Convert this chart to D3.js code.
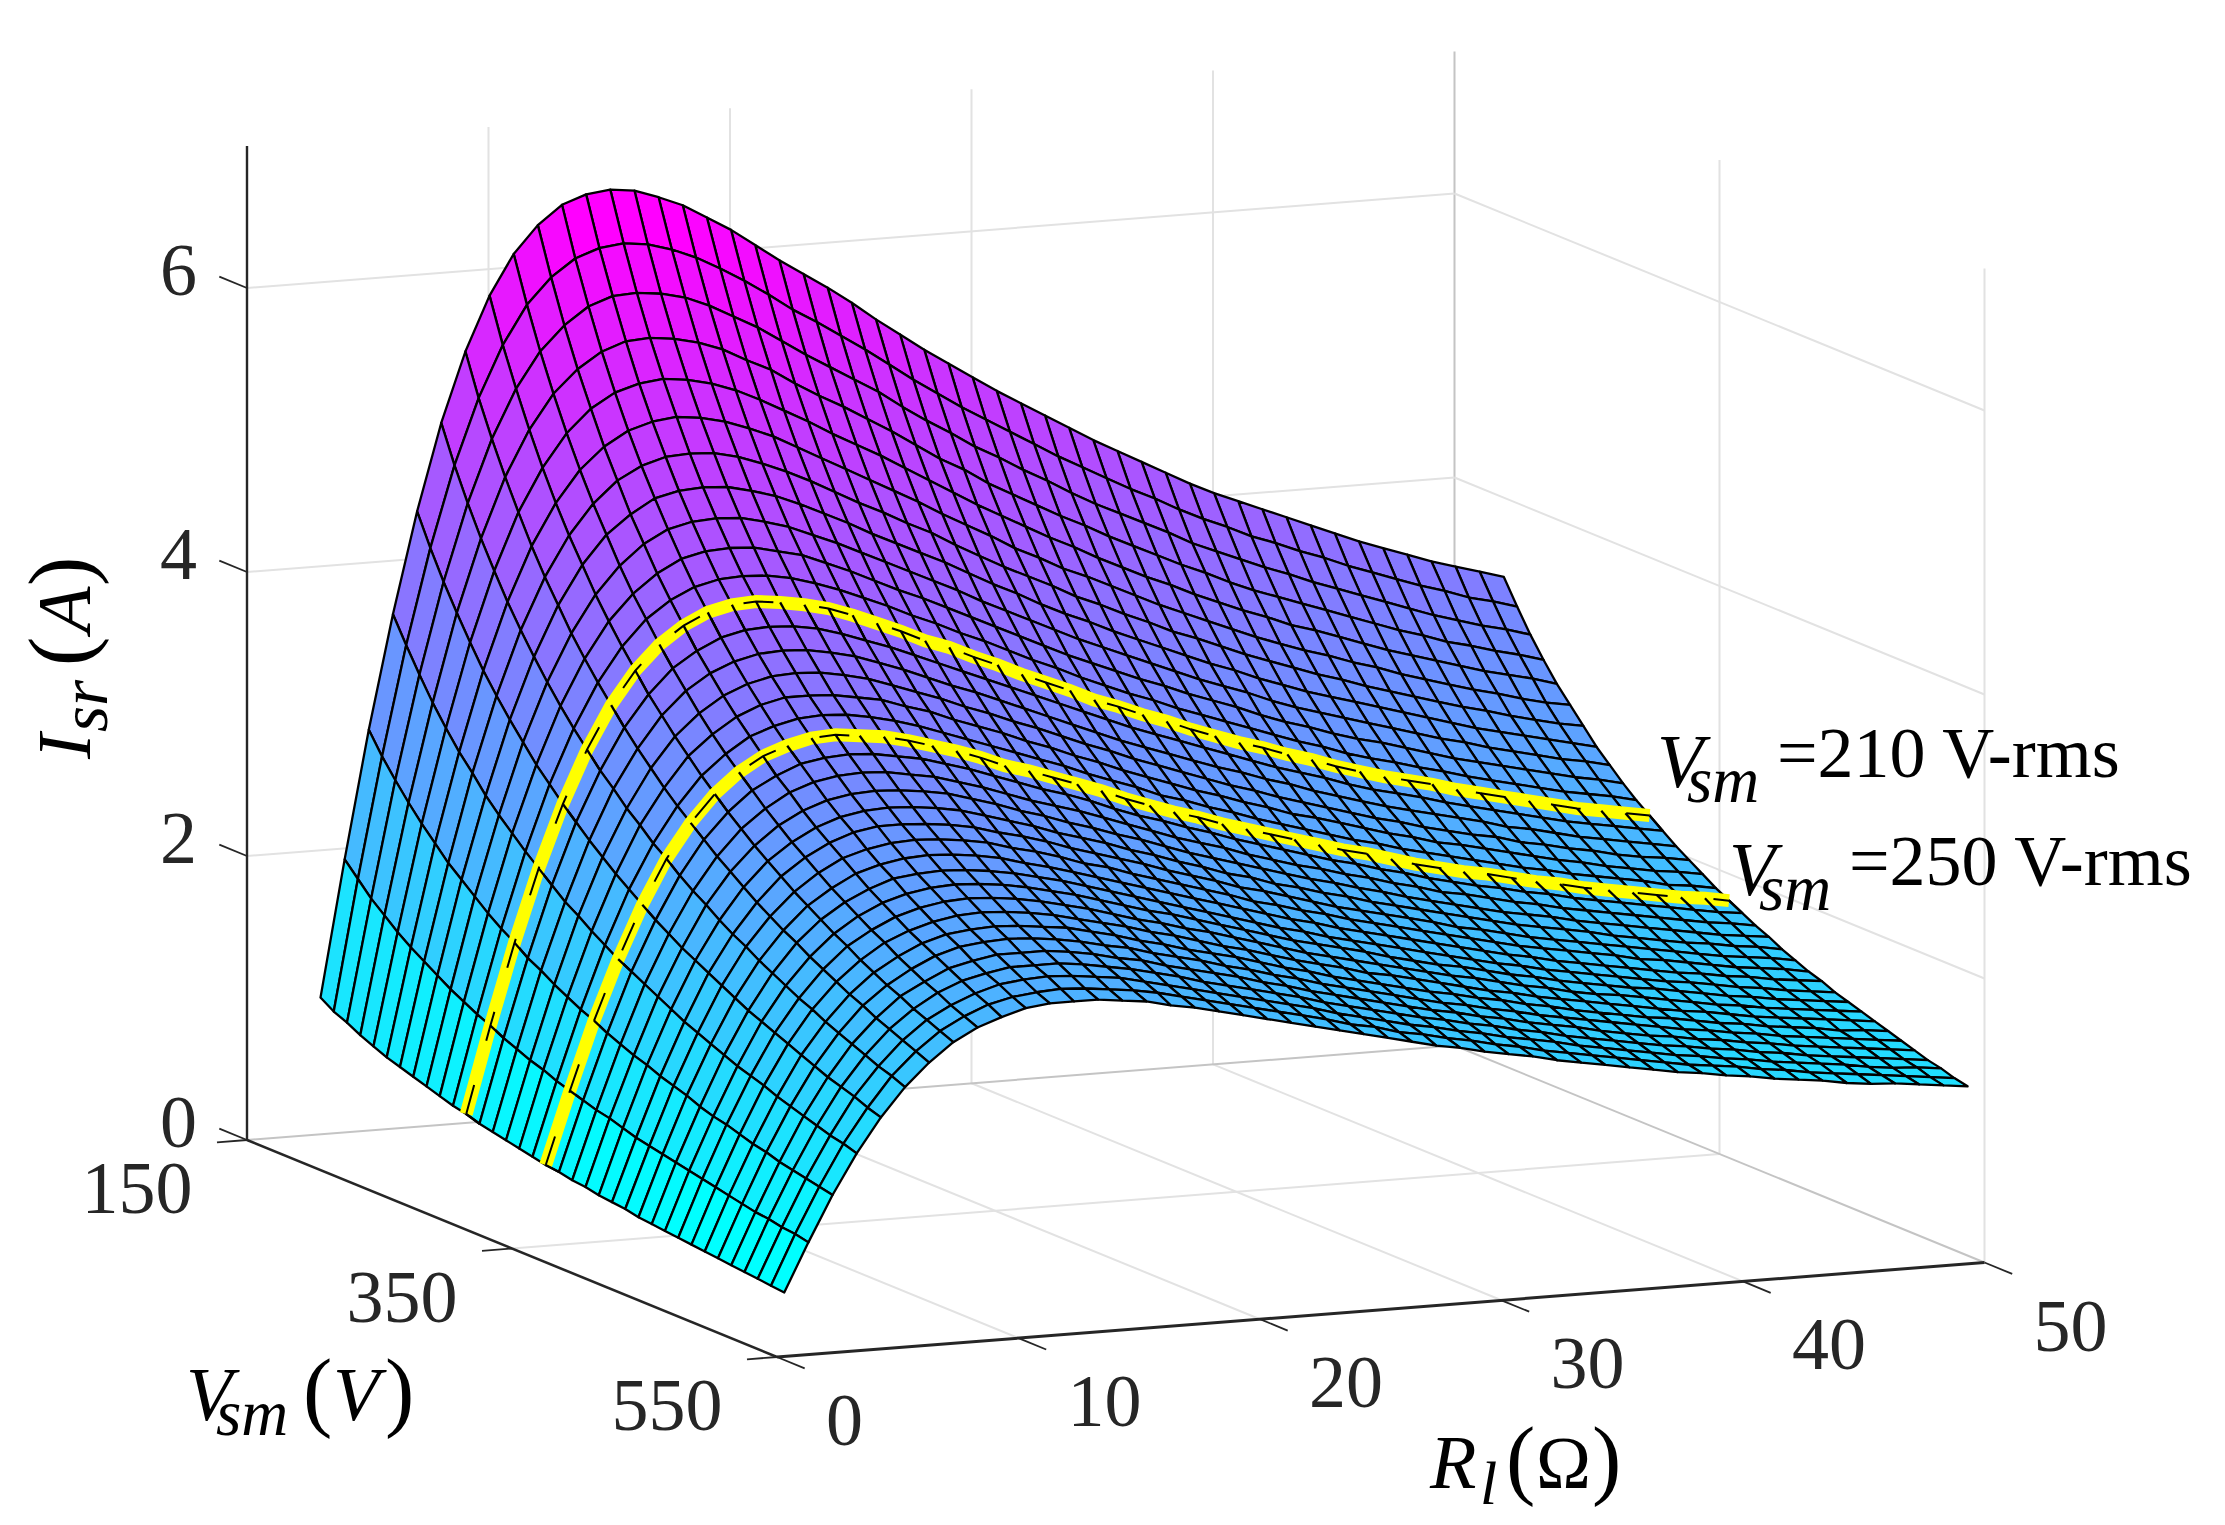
<!DOCTYPE html>
<html>
<head>
<meta charset="utf-8">
<script src="https://cdn.jsdelivr.net/npm/d3@7"></script>
<style>
  body { margin: 0; background: #fff; }
  text { font-family: "Liberation Serif", serif; fill: #262626; }
</style>
</head>
<body>
<script>
const rlTicks = [0, 10, 20, 30, 40, 50];
const vsmTicks = [150, 350, 550];
const isrTicks = [0, 2, 4, 6];
const highlightVsm = [310, 370];

const rlValues = [0.3,1.3,2.3,3.3,4.3,5.3,6.3,7.3,8.3,9.3,10.3,11.3,12.3,13.3,14.3,15.3,16.3,17.3,18.3,19.3,20.3,21.3,22.3,23.3,24.3,25.3,26.3,27.3,28.3,29.3,30.3,31.3,32.3,33.3,34.3,35.3,36.3,37.3,38.3,39.3,40.3,41.3,42.3,43.3,44.3,45.3,46.3,47.3,48.3,49.3];
const vsmValues = [200,210,220,230,240,250,260,270,280,290,300,310,320,330,340,350,360,370,380,390,400,410,420,430,440,450,460,470,480,490,500,510,520,530,540,550];

// Isr per Vsm row. Rows 200 and 550 are read node by node off the picture, 310 and 370 checked
// against the yellow curves. The rows between are estimates scaled from those edges, not direct readings.
const isrRows = [
[1.19,2.15,3.05,3.85,4.56,5.17,5.66,6.04,6.32,6.51,6.64,6.70,6.72,6.70,6.64,6.57,6.47,6.37,6.25,6.13,6.02,5.91,5.79,5.66,5.54,5.42,5.31,5.20,5.09,4.99,4.89,4.79,4.69,4.60,4.51,4.42,4.33,4.25,4.18,4.11,4.04,3.97,3.90,3.83,3.77,3.71,3.65,3.60,3.55,3.50],
[1.13,2.05,2.90,3.67,4.34,4.91,5.37,5.73,6.00,6.18,6.30,6.36,6.38,6.36,6.31,6.24,6.15,6.05,5.94,5.82,5.72,5.61,5.50,5.38,5.26,5.15,5.04,4.94,4.84,4.74,4.64,4.55,4.46,4.37,4.29,4.20,4.12,4.05,3.97,3.91,3.84,3.78,3.71,3.65,3.59,3.53,3.48,3.42,3.38,3.33],
[1.09,1.95,2.77,3.50,4.14,4.68,5.12,5.46,5.71,5.88,6.00,6.06,6.07,6.05,6.01,5.94,5.85,5.76,5.65,5.54,5.44,5.34,5.24,5.12,5.01,4.91,4.80,4.71,4.61,4.52,4.42,4.33,4.25,4.17,4.09,4.00,3.93,3.86,3.79,3.73,3.66,3.60,3.54,3.48,3.42,3.36,3.31,3.26,3.22,3.17],
[1.04,1.87,2.65,3.34,3.96,4.47,4.89,5.21,5.45,5.61,5.72,5.78,5.79,5.77,5.73,5.67,5.58,5.50,5.39,5.29,5.20,5.10,5.00,4.89,4.78,4.69,4.58,4.49,4.40,4.31,4.23,4.14,4.06,3.98,3.90,3.83,3.75,3.68,3.62,3.56,3.50,3.44,3.38,3.32,3.27,3.21,3.17,3.12,3.08,3.03],
[1.00,1.79,2.54,3.20,3.79,4.28,4.68,4.98,5.21,5.37,5.47,5.52,5.54,5.52,5.48,5.42,5.34,5.25,5.16,5.06,4.97,4.88,4.78,4.68,4.58,4.48,4.39,4.30,4.21,4.13,4.04,3.96,3.88,3.81,3.73,3.66,3.59,3.53,3.46,3.41,3.35,3.29,3.23,3.18,3.13,3.08,3.03,2.99,2.95,2.90],
[0.96,1.72,2.44,3.07,3.63,4.10,4.48,4.77,4.99,5.14,5.24,5.29,5.31,5.29,5.25,5.19,5.12,5.03,4.94,4.85,4.76,4.67,4.58,4.48,4.39,4.30,4.20,4.12,4.03,3.96,3.88,3.80,3.72,3.65,3.58,3.51,3.44,3.38,3.32,3.27,3.21,3.16,3.10,3.05,3.00,2.95,2.91,2.86,2.82,2.79],
[0.93,1.66,2.34,2.96,3.49,3.94,4.30,4.58,4.79,4.94,5.03,5.08,5.09,5.08,5.04,4.98,4.91,4.83,4.74,4.65,4.57,4.48,4.40,4.30,4.21,4.12,4.04,3.96,3.87,3.80,3.72,3.65,3.57,3.51,3.44,3.37,3.31,3.25,3.19,3.14,3.08,3.03,2.98,2.93,2.88,2.84,2.79,2.75,2.71,2.68],
[0.90,1.60,2.26,2.84,3.36,3.79,4.14,4.41,4.61,4.74,4.84,4.88,4.89,4.88,4.84,4.79,4.72,4.64,4.56,4.47,4.39,4.31,4.23,4.14,4.05,3.97,3.88,3.80,3.73,3.65,3.58,3.51,3.44,3.37,3.31,3.24,3.18,3.12,3.07,3.02,2.97,2.92,2.87,2.82,2.77,2.73,2.69,2.65,2.61,2.57],
[0.87,1.54,2.18,2.74,3.24,3.65,3.98,4.24,4.43,4.57,4.66,4.70,4.71,4.70,4.66,4.61,4.54,4.47,4.39,4.31,4.23,4.15,4.07,3.98,3.90,3.82,3.74,3.66,3.59,3.52,3.45,3.38,3.31,3.25,3.19,3.12,3.06,3.01,2.96,2.91,2.86,2.81,2.76,2.72,2.67,2.63,2.59,2.55,2.52,2.48],
[0.84,1.49,2.10,2.65,3.12,3.52,3.84,4.09,4.27,4.40,4.49,4.53,4.54,4.53,4.49,4.45,4.38,4.31,4.23,4.15,4.08,4.00,3.92,3.84,3.76,3.68,3.60,3.53,3.46,3.39,3.33,3.26,3.20,3.14,3.07,3.01,2.96,2.90,2.85,2.81,2.76,2.71,2.66,2.62,2.58,2.54,2.50,2.46,2.43,2.39],
[0.81,1.44,2.03,2.56,3.02,3.40,3.71,3.95,4.13,4.25,4.33,4.37,4.38,4.37,4.34,4.29,4.23,4.16,4.09,4.01,3.94,3.86,3.79,3.71,3.63,3.56,3.48,3.41,3.34,3.28,3.21,3.15,3.09,3.03,2.97,2.91,2.86,2.80,2.75,2.71,2.66,2.62,2.57,2.53,2.49,2.45,2.41,2.38,2.35,2.31],
[0.79,1.40,1.97,2.48,2.92,3.29,3.59,3.82,3.99,4.11,4.19,4.23,4.24,4.22,4.19,4.15,4.09,4.02,3.95,3.87,3.81,3.73,3.66,3.58,3.51,3.44,3.36,3.30,3.23,3.17,3.10,3.04,2.98,2.93,2.87,2.82,2.76,2.71,2.66,2.62,2.58,2.53,2.49,2.45,2.41,2.37,2.33,2.30,2.27,2.24],
[0.76,1.35,1.90,2.40,2.83,3.18,3.47,3.69,3.86,3.97,4.05,4.09,4.10,4.09,4.06,4.01,3.95,3.89,3.82,3.75,3.68,3.61,3.54,3.47,3.40,3.33,3.26,3.19,3.13,3.07,3.01,2.95,2.89,2.83,2.78,2.73,2.67,2.62,2.58,2.54,2.49,2.45,2.41,2.37,2.33,2.29,2.26,2.23,2.20,2.17],
[0.74,1.31,1.85,2.32,2.74,3.09,3.36,3.58,3.74,3.85,3.92,3.96,3.97,3.96,3.93,3.89,3.83,3.77,3.70,3.63,3.57,3.50,3.43,3.36,3.29,3.22,3.15,3.09,3.03,2.97,2.91,2.86,2.80,2.75,2.69,2.64,2.59,2.54,2.50,2.46,2.42,2.38,2.33,2.30,2.26,2.22,2.19,2.16,2.13,2.10],
[0.72,1.27,1.79,2.26,2.66,2.99,3.26,3.47,3.62,3.73,3.80,3.84,3.85,3.84,3.81,3.77,3.71,3.65,3.59,3.52,3.46,3.39,3.33,3.26,3.19,3.13,3.06,3.00,2.94,2.88,2.82,2.77,2.71,2.66,2.61,2.56,2.51,2.47,2.42,2.38,2.34,2.31,2.26,2.23,2.19,2.16,2.12,2.09,2.07,2.04],
[0.70,1.24,1.74,2.19,2.58,2.91,3.16,3.37,3.51,3.62,3.69,3.73,3.73,3.72,3.69,3.66,3.60,3.55,3.48,3.42,3.36,3.29,3.23,3.16,3.10,3.03,2.97,2.91,2.85,2.80,2.74,2.69,2.63,2.59,2.54,2.49,2.44,2.40,2.35,2.32,2.28,2.24,2.20,2.16,2.13,2.09,2.06,2.03,2.01,1.98],
[0.68,1.20,1.69,2.13,2.51,2.82,3.07,3.27,3.41,3.52,3.58,3.62,3.63,3.62,3.59,3.55,3.50,3.44,3.38,3.32,3.26,3.20,3.14,3.07,3.01,2.95,2.88,2.83,2.77,2.72,2.66,2.61,2.56,2.51,2.46,2.42,2.37,2.33,2.29,2.25,2.21,2.17,2.14,2.10,2.07,2.04,2.01,1.97,1.95,1.92],
[0.66,1.17,1.65,2.07,2.44,2.75,2.99,3.18,3.32,3.42,3.48,3.52,3.53,3.51,3.49,3.45,3.40,3.35,3.29,3.22,3.17,3.11,3.05,2.99,2.92,2.86,2.80,2.75,2.69,2.64,2.59,2.54,2.49,2.44,2.40,2.35,2.30,2.26,2.22,2.19,2.15,2.11,2.08,2.04,2.01,1.98,1.95,1.92,1.90,1.87],
[0.65,1.14,1.60,2.02,2.37,2.67,2.91,3.09,3.23,3.32,3.39,3.42,3.43,3.42,3.39,3.36,3.31,3.26,3.20,3.14,3.08,3.03,2.97,2.90,2.84,2.79,2.73,2.68,2.62,2.57,2.52,2.47,2.42,2.38,2.33,2.29,2.24,2.20,2.16,2.13,2.09,2.06,2.02,1.99,1.96,1.93,1.90,1.87,1.84,1.82],
[0.63,1.11,1.56,1.97,2.31,2.60,2.83,3.01,3.14,3.24,3.30,3.33,3.34,3.33,3.30,3.27,3.22,3.17,3.11,3.05,3.00,2.95,2.89,2.83,2.77,2.71,2.66,2.61,2.55,2.50,2.45,2.41,2.36,2.32,2.27,2.23,2.18,2.15,2.11,2.07,2.04,2.00,1.97,1.94,1.91,1.88,1.85,1.82,1.80,1.77],
[0.62,1.09,1.52,1.92,2.25,2.54,2.76,2.93,3.06,3.15,3.21,3.24,3.25,3.24,3.22,3.19,3.14,3.09,3.03,2.98,2.92,2.87,2.81,2.76,2.70,2.64,2.59,2.54,2.49,2.44,2.39,2.35,2.30,2.26,2.21,2.17,2.13,2.09,2.05,2.02,1.99,1.95,1.92,1.89,1.86,1.83,1.80,1.77,1.75,1.73],
[0.60,1.06,1.49,1.87,2.20,2.47,2.69,2.86,2.98,3.07,3.13,3.16,3.17,3.16,3.14,3.11,3.06,3.01,2.96,2.90,2.85,2.80,2.74,2.69,2.63,2.58,2.52,2.48,2.42,2.38,2.33,2.29,2.24,2.20,2.16,2.12,2.08,2.04,2.00,1.97,1.94,1.91,1.87,1.84,1.81,1.78,1.76,1.73,1.71,1.68],
[0.59,1.03,1.45,1.82,2.15,2.41,2.62,2.79,2.91,3.00,3.06,3.09,3.09,3.08,3.06,3.03,2.98,2.94,2.89,2.83,2.78,2.73,2.68,2.62,2.57,2.52,2.46,2.42,2.37,2.32,2.27,2.23,2.19,2.15,2.11,2.06,2.03,1.99,1.95,1.92,1.89,1.86,1.83,1.80,1.77,1.74,1.71,1.69,1.67,1.64],
[0.58,1.01,1.42,1.78,2.10,2.36,2.56,2.72,2.84,2.93,2.98,3.01,3.02,3.01,2.99,2.96,2.91,2.87,2.82,2.76,2.72,2.66,2.61,2.56,2.51,2.46,2.40,2.36,2.31,2.27,2.22,2.18,2.14,2.10,2.06,2.02,1.98,1.94,1.91,1.88,1.85,1.82,1.78,1.76,1.73,1.70,1.67,1.65,1.63,1.60],
[0.56,0.99,1.39,1.74,2.05,2.30,2.50,2.66,2.77,2.86,2.91,2.94,2.95,2.94,2.92,2.89,2.84,2.80,2.75,2.70,2.65,2.60,2.55,2.50,2.45,2.40,2.35,2.30,2.26,2.21,2.17,2.13,2.09,2.05,2.01,1.97,1.93,1.90,1.86,1.83,1.80,1.77,1.74,1.71,1.69,1.66,1.64,1.61,1.59,1.57],
[0.55,0.97,1.35,1.70,2.00,2.25,2.45,2.60,2.71,2.79,2.85,2.87,2.88,2.87,2.85,2.82,2.78,2.74,2.69,2.64,2.59,2.54,2.49,2.44,2.39,2.34,2.29,2.25,2.20,2.16,2.12,2.08,2.04,2.00,1.96,1.92,1.89,1.85,1.82,1.79,1.76,1.73,1.70,1.68,1.65,1.62,1.60,1.57,1.55,1.53],
[0.54,0.95,1.32,1.66,1.96,2.20,2.39,2.54,2.65,2.73,2.78,2.81,2.82,2.81,2.79,2.76,2.72,2.68,2.63,2.58,2.53,2.49,2.44,2.39,2.34,2.29,2.24,2.20,2.16,2.12,2.07,2.03,1.99,1.96,1.92,1.88,1.85,1.81,1.78,1.75,1.72,1.70,1.67,1.64,1.61,1.59,1.56,1.54,1.52,1.50],
[0.53,0.93,1.30,1.63,1.92,2.15,2.34,2.49,2.59,2.67,2.72,2.75,2.76,2.75,2.73,2.70,2.66,2.62,2.57,2.52,2.48,2.43,2.39,2.34,2.29,2.24,2.19,2.15,2.11,2.07,2.03,1.99,1.95,1.92,1.88,1.84,1.81,1.77,1.74,1.72,1.69,1.66,1.63,1.60,1.58,1.55,1.53,1.51,1.49,1.47],
[0.52,0.91,1.27,1.60,1.88,2.11,2.29,2.43,2.54,2.61,2.66,2.69,2.70,2.69,2.67,2.64,2.60,2.56,2.52,2.47,2.43,2.38,2.33,2.29,2.24,2.19,2.15,2.11,2.06,2.03,1.99,1.95,1.91,1.87,1.84,1.80,1.77,1.74,1.71,1.68,1.65,1.62,1.60,1.57,1.54,1.52,1.50,1.48,1.46,1.44],
[0.51,0.89,1.24,1.56,1.84,2.06,2.24,2.38,2.48,2.56,2.61,2.63,2.64,2.63,2.61,2.59,2.55,2.51,2.46,2.42,2.37,2.33,2.29,2.24,2.19,2.15,2.10,2.06,2.02,1.98,1.94,1.91,1.87,1.84,1.80,1.77,1.73,1.70,1.67,1.64,1.62,1.59,1.56,1.54,1.51,1.49,1.47,1.44,1.43,1.41],
[0.50,0.87,1.22,1.53,1.80,2.02,2.20,2.33,2.43,2.51,2.56,2.58,2.59,2.58,2.56,2.53,2.49,2.46,2.41,2.37,2.33,2.28,2.24,2.19,2.15,2.10,2.06,2.02,1.98,1.94,1.90,1.87,1.83,1.80,1.76,1.73,1.70,1.67,1.64,1.61,1.58,1.56,1.53,1.51,1.48,1.46,1.44,1.42,1.40,1.38],
[0.49,0.85,1.19,1.50,1.76,1.98,2.15,2.29,2.38,2.46,2.50,2.53,2.53,2.53,2.51,2.48,2.44,2.41,2.36,2.32,2.28,2.24,2.19,2.15,2.10,2.06,2.02,1.98,1.94,1.90,1.87,1.83,1.80,1.76,1.73,1.70,1.66,1.63,1.60,1.58,1.55,1.53,1.50,1.48,1.45,1.43,1.41,1.39,1.37,1.35],
[0.48,0.84,1.17,1.47,1.73,1.94,2.11,2.24,2.34,2.41,2.45,2.48,2.48,2.48,2.46,2.43,2.40,2.36,2.32,2.27,2.23,2.19,2.15,2.11,2.06,2.02,1.98,1.94,1.90,1.87,1.83,1.80,1.76,1.73,1.69,1.66,1.63,1.60,1.57,1.55,1.52,1.50,1.47,1.45,1.42,1.40,1.38,1.36,1.34,1.32],
[0.47,0.82,1.15,1.44,1.70,1.90,2.07,2.20,2.29,2.36,2.41,2.43,2.44,2.43,2.41,2.39,2.35,2.31,2.27,2.23,2.19,2.15,2.11,2.07,2.02,1.98,1.94,1.90,1.87,1.83,1.80,1.76,1.73,1.70,1.66,1.63,1.60,1.57,1.54,1.52,1.49,1.47,1.44,1.42,1.40,1.38,1.35,1.33,1.32,1.30],
[0.46,0.81,1.13,1.42,1.66,1.87,2.03,2.16,2.25,2.32,2.36,2.38,2.39,2.38,2.36,2.34,2.31,2.27,2.23,2.19,2.15,2.11,2.07,2.03,1.98,1.95,1.90,1.87,1.83,1.80,1.76,1.73,1.69,1.66,1.63,1.60,1.57,1.54,1.51,1.49,1.47,1.44,1.42,1.39,1.37,1.35,1.33,1.31,1.29,1.27],
[0.45,0.79,1.11,1.39,1.63,1.83,1.99,2.12,2.21,2.27,2.32,2.34,2.34,2.34,2.32,2.30,2.26,2.23,2.19,2.15,2.11,2.07,2.03,1.99,1.95,1.91,1.87,1.83,1.80,1.76,1.73,1.70,1.66,1.63,1.60,1.57,1.54,1.51,1.49,1.46,1.44,1.41,1.39,1.37,1.34,1.32,1.31,1.29,1.27,1.25]
];

const width = 2225, height = 1525;
const svg = d3.select('body').append('svg').attr('width', width).attr('height', height);

// the 3D box is orthographic: each axis is a straight screen vector
const rlX = d3.scaleLinear().domain([0, 50]).range([0, 1207.5]);
const rlY = d3.scaleLinear().domain([0, 50]).range([0, -94.5]);
const vsmX = d3.scaleLinear().domain([150, 550]).range([0, 530]);
const vsmY = d3.scaleLinear().domain([150, 550]).range([0, 217]);
const isrY = d3.scaleLinear().domain([0, 7]).range([0, -994]);
const originX = 247, originY = 1140;

function project(rl, vsm, isr) {
    return [originX + rlX(rl) + vsmX(vsm), originY + rlY(rl) + vsmY(vsm) + isrY(isr)];
}

const color = d3.scaleQuantize()
    .domain([0.45, 6.72])
    .range(d3.quantize(d3.interpolateRgb('#00ffff', '#ff00ff'), 64));

function addLine(a, b, stroke, w) {
    svg.append('line')
        .attr('x1', a[0]).attr('y1', a[1])
        .attr('x2', b[0]).attr('y2', b[1])
        .attr('stroke', stroke)
        .attr('stroke-width', w);
}

//grid on the two back walls and the floor
const gridColor = '#e2e2e2', boxColor = '#c4c4c4';
rlTicks.forEach(r => {
    addLine(project(r, 150, 0), project(r, 150, 7), r === 50 ? boxColor : gridColor, 2);
    if (r > 0 && r < 50) addLine(project(r, 150, 0), project(r, 550, 0), gridColor, 2);
});
vsmTicks.slice(1).forEach(v => addLine(project(50, v, 0), project(50, v, 7), gridColor, 2));
addLine(project(0, 350, 0), project(50, 350, 0), gridColor, 2);
isrTicks.forEach(z => {
    addLine(project(0, 150, z), project(50, 150, z), z === 0 ? boxColor : gridColor, 2);
    addLine(project(50, 150, z), project(50, 550, z), z === 0 ? boxColor : gridColor, 2);
});

//surface cells, far ones first so the near ones paint over them
const cells = [];
for (let i = 0; i < vsmValues.length - 1; i++) {
    for (let j = rlValues.length - 2; j >= 0; j--) {
        cells.push({ i, j });
    }
}
const node = (i, j) => project(rlValues[j], vsmValues[i], isrRows[i][j]);
const path = d3.line();
const meshWidth = 2.3;

svg.append('g').selectAll('path')
    .data(cells)
    .enter()
    .append('path')
    .attr('d', d => path([node(d.i, d.j), node(d.i, d.j + 1), node(d.i + 1, d.j + 1), node(d.i + 1, d.j)]) + 'Z')
    .attr('fill', d => color(isrRows[d.i][d.j]))
    .attr('stroke', '#000')
    .attr('stroke-width', meshWidth)
    .attr('stroke-linejoin', 'round');

//yellow curves sit half inside the surface, so the near side mesh lines run over them
highlightVsm.forEach(v => {
    const i = vsmValues.indexOf(v);
    const rowPoints = rlValues.map((r, j) => node(i, j));
    svg.append('path')
        .attr('d', path(rowPoints))
        .attr('fill', 'none')
        .attr('stroke', '#ffff00')
        .attr('stroke-width', 13);
    rlValues.forEach((r, j) => addLine(node(i, j), node(i + 1, j), '#000', meshWidth));
    svg.append('path')
        .attr('d', path(rowPoints))
        .attr('fill', 'none')
        .attr('stroke', '#000')
        .attr('stroke-width', 2)
        .attr('stroke-dasharray', '30 46');
});

//axes and ticks
const axisColor = '#262626';
addLine(project(0, 150, 0), project(0, 150, 7), axisColor, 2.4);
addLine(project(0, 150, 0), project(0, 550, 0), axisColor, 2.6);
addLine(project(0, 550, 0), project(50, 550, 0), axisColor, 3);

function shifted(p, dx, dy) {
    return [p[0] + dx, p[1] + dy];
}
isrTicks.forEach(z => addLine(project(0, 150, z), shifted(project(0, 150, z), -27.7, -11.4), axisColor, 1.8));
vsmTicks.forEach(v => addLine(project(0, v, 0), shifted(project(0, v, 0), -30, 2.3), axisColor, 1.8));
rlTicks.forEach(r => addLine(project(r, 550, 0), shifted(project(r, 550, 0), 27.7, 11.4), axisColor, 1.8));

function addText(x, y, str, size, anchor) {
    return svg.append('text')
        .attr('x', x).attr('y', y)
        .attr('font-size', size)
        .attr('text-anchor', anchor || 'start')
        .text(str);
}

isrTicks.forEach(z => {
    const p = project(0, 150, z);
    addText(p[0] - 50, p[1] + 7, z, 74, 'end');
});
vsmTicks.forEach(v => {
    const p = project(0, v, 0);
    addText(p[0] - 110, p[1] + 73, v, 74, 'middle');
});
rlTicks.forEach(r => {
    const p = project(r, 550, 0);
    addText(p[0] + 49, p[1] + 88, r, 74);
});

// one text element with a tspan per glyph run, since the subscripts tuck under the capitals
function addRuns(parent, runs) {
    const t = parent.append('text').style('fill', '#000');
    runs.forEach(r => {
        t.append('tspan')
            .attr('x', r[1]).attr('y', r[2])
            .attr('font-size', r[3])
            .attr('font-style', r[4] ? 'italic' : 'normal')
            .text(r[0]);
    });
    return t;
}

//axis titles
addRuns(svg, [['R', 1430, 1488, 76, true], ['l', 1480, 1504, 62, true], ['(', 1506, 1488, 88], ['Ω', 1536, 1488, 74], [')', 1592, 1488, 88]]);
addRuns(svg, [['V', 186, 1420, 76, true], ['sm', 216, 1435, 65, true], ['(', 303, 1420, 88], ['V', 333, 1420, 76, true], [')', 385, 1420, 88]]);
addRuns(svg.append('g').attr('transform', 'translate(90,759) rotate(-90)'),
    [['I', 0, 0, 76, true], ['sr', 27, 17, 67, true], ['(', 93, 0, 88], ['A', 126, 0, 76, true], [')', 173, 0, 88]]);

//annotations for the two yellow curves
function addNote(x, y, label) {
    addRuns(svg, [['V', x, y + 10, 76, true], ['sm', x + 30, y + 25, 65, true], [label, x + 120, y, 72]]);
}
addNote(1657, 777, '=210 V-rms');
addNote(1729, 885, '=250 V-rms');
</script>
</body>
</html>
